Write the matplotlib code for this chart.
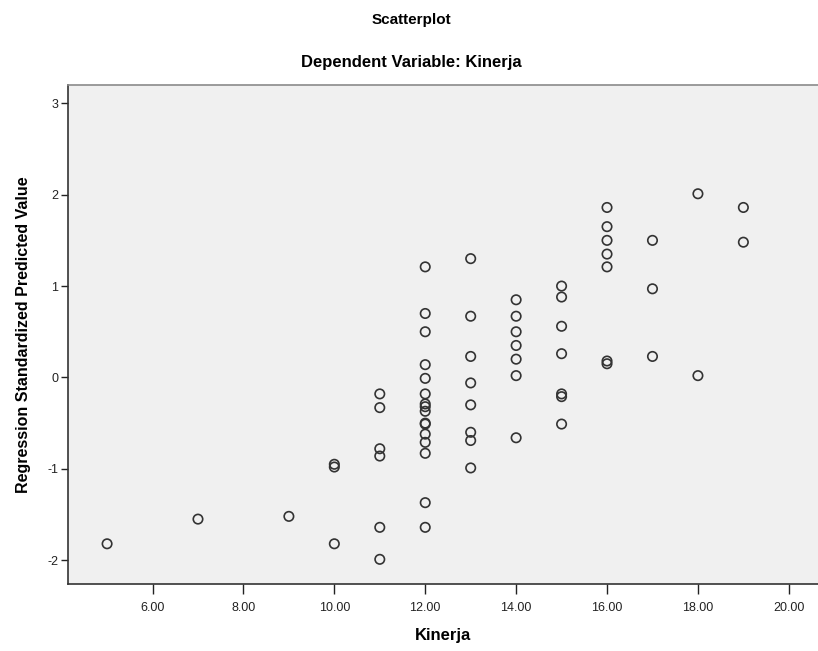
import matplotlib
matplotlib.use("Agg")
import matplotlib.pyplot as plt

plt.rcParams['font.family'] = ['Liberation Sans', 'DejaVu Sans']

# Kinerja (x) values grouped, with regression standardized predicted values (y)
kinerja = ([5, 7, 9] + [10] * 3 + [11] * 6 + [12] * 16 + [13] * 8 + [14] * 7
           + [15] * 7 + [16] * 7 + [17] * 3 + [18] * 2 + [19] * 2)
predicted = (
    [-1.82, -1.55, -1.52]
    + [-0.95, -0.98, -1.82]
    + [-0.18, -0.33, -0.78, -0.86, -1.64, -1.99]
    + [1.21, 0.70, 0.50, 0.14, -0.01, -0.18, -0.29, -0.32, -0.37, -0.50, -0.51,
       -0.62, -0.71, -0.83, -1.37, -1.64]
    + [1.30, 0.67, 0.23, -0.06, -0.30, -0.60, -0.69, -0.99]
    + [0.85, 0.67, 0.50, 0.35, 0.20, 0.02, -0.66]
    + [1.00, 0.88, 0.56, 0.26, -0.18, -0.21, -0.51]
    + [1.86, 1.65, 1.50, 1.35, 1.21, 0.18, 0.15]
    + [1.50, 0.97, 0.23]
    + [2.01, 0.02]
    + [1.86, 1.48]
)

xticks = [6, 8, 10, 12, 14, 16, 18, 20]
xticklabels = ["6.00", "8.00", "10.00", "12.00", "14.00", "16.00", "18.00", "20.00"]
yticks = [-2, -1, 0, 1, 2, 3]
yticklabels = ["-2", "-1", "0", "1", "2", "3"]

fig = plt.figure(figsize=(8.18, 6.51), dpi=100)
ax = fig.add_axes([68 / 818, 67 / 651, 1 - 68 / 818 + 0.001, (584 - 85) / 651])
ax.set_facecolor('#f0f0f0')

ax.scatter(kinerja, predicted, s=46, facecolors='none', edgecolors='#333333',
           linewidths=1.2, zorder=3)

ax.set_xlim(4.14, 20.66)
ax.set_ylim(-2.26, 3.20)
ax.set_xticks(xticks)
ax.set_xticklabels(xticklabels)
ax.set_yticks(yticks)
ax.set_yticklabels(yticklabels)
ax.tick_params(axis='x', length=7, width=1, colors='#222222', labelsize=9, pad=6)
ax.tick_params(axis='y', length=5, width=1, colors='#222222', labelsize=9, pad=2)

for side in ['left', 'bottom']:
    ax.spines[side].set_color('#333333')
    ax.spines[side].set_linewidth(1.2)
ax.spines['top'].set_color('#8a8a8a')
ax.spines['top'].set_linewidth(1.2)
ax.spines['right'].set_visible(False)

ax.set_xlabel('Kinerja', fontsize=12, fontweight='bold', labelpad=10)
ax.set_ylabel('Regression Standardized Predicted Value', fontsize=11.5,
              fontweight='bold', labelpad=12)

fig.text(0.503, 1 - 20 / 651, 'Scatterplot', ha='center', va='center',
         fontsize=11, fontweight='bold')
fig.text(0.503, 1 - 62 / 651, 'Dependent Variable: Kinerja', ha='center',
         va='center', fontsize=12, fontweight='bold')

fig.savefig('out.png', dpi=100, facecolor='white')
